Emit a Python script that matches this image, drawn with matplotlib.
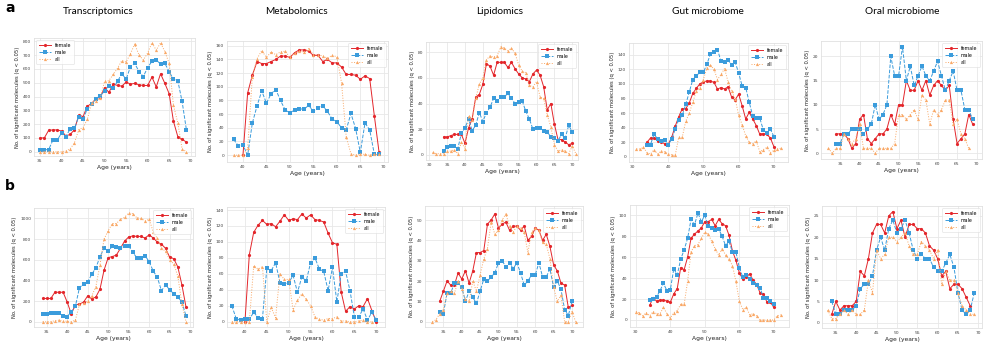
import numpy as np
import matplotlib
matplotlib.use('Agg')
import matplotlib.pyplot as plt

# ---- data: number of significant molecules per age window ----
# row a
tx_a_start = (35, 35, 35)
tx_a_female = [100, 100, 155, 158, 158, 150, 115, 125, 160, 265, 255, 330, 350, 385, 395, 465, 430, 490,
               480, 475, 505, 490, 495, 485, 480, 480, 540, 470, 565, 495, 420, 220, 110, 90, 70]
tx_a_male = [15, 15, 15, 85, 85, 135, 110, 165, 170, 255, 240, 310, 345, 385, 405, 440, 475, 460,
             510, 565, 525, 615, 640, 580, 545, 610, 655, 665, 635, 640, 580, 525, 515, 365, 160]
tx_a_all = [0, 0, 0, 0, 0, 0, 5, 20, 65, 160, 175, 235, 355, 370, 390, 510, 515, 560,
            605, 660, 650, 710, 780, 700, 665, 715, 790, 735, 790, 725, 640, 335, 210, 20, 0]

met_a_start = (40, 38, 38)
met_a_female = [0, 91, 117, 137, 134, 134, 137, 140, 145, 145, 143, 150, 154, 154, 152, 146, 146, 137,
                140, 135, 135, 129, 118, 118, 117, 111, 116, 112, 57, 4]
met_a_male = [23, 14, 15, 0, 47, 72, 94, 76, 90, 96, 80, 66, 62, 66, 68, 67, 73, 64, 69, 72, 64, 53,
              49, 40, 37, 61, 39, 4, 47, 37, 1, 1]
met_a_all = [0, 0, 0, 10, 115, 141, 153, 143, 151, 147, 151, 152, 143, 149, 152, 151, 156, 147, 147,
             145, 142, 146, 144, 106, 27, 2, 0, 2, 1, 0, 1, 1]

lip_a_start = (34, 34, 31)
lip_a_female = [14, 14, 15, 16, 16, 16, 9, 21, 28, 45, 47, 55, 71, 69, 62, 72, 72, 72, 68, 72, 67, 63,
                60, 59, 57, 63, 66, 62, 53, 35, 40, 24, 12, 12, 10, 8, 9]
lip_a_male = [3, 6, 7, 7, 5, 17, 21, 28, 19, 23, 33, 26, 33, 37, 44, 42, 45, 45, 48, 44, 40, 41, 42,
              34, 28, 20, 21, 21, 19, 18, 14, 13, 11, 16, 13, 23, 18]
lip_a_all = [2, 1, 1, 1, 3, 3, 4, 1, 10, 5, 30, 27, 44, 55, 60, 74, 77, 76, 77, 84, 83, 81, 83, 79,
             70, 65, 64, 54, 53, 57, 45, 44, 31, 22, 8, 3, 4, 3, 1, 7, 1]

gut_a_start = (34, 34, 31)
gut_a_female = [20, 26, 26, 22, 21, 18, 17, 27, 42, 55, 66, 66, 74, 87, 94, 100, 103, 104, 104, 102,
                93, 95, 93, 96, 82, 78, 86, 70, 52, 61, 52, 43, 31, 32, 31, 26, 14]
gut_a_male = [16, 17, 31, 25, 22, 23, 17, 24, 38, 51, 57, 72, 89, 106, 111, 116, 116, 127, 141, 144,
              147, 131, 130, 133, 126, 130, 115, 97, 95, 75, 56, 54, 53, 37, 33, 38, 28]
gut_a_all = [11, 11, 13, 6, 4, 10, 4, 8, 7, 4, 3, 2, 27, 27, 49, 60, 75, 90, 95, 106, 122, 126, 120,
             106, 113, 121, 103, 90, 80, 57, 44, 29, 20, 18, 22, 7, 10, 13, 6, 9, 11, 12]

oral_a_start = (34, 34, 32)
oral_a_female = [4, 4, 4, 3, 1, 2, 7, 8, 3, 2, 3, 4, 4, 5, 8, 6, 10, 10, 15, 13, 13, 15, 13, 15, 12,
                 14, 15, 14, 13, 14, 7, 2, 3, 4, 8, 6]
oral_a_male = [2, 2, 4, 4, 5, 5, 5, 4, 5, 6, 10, 7, 8, 10, 20, 16, 16, 22, 15, 18, 14, 16, 18, 16, 15,
               17, 19, 16, 13, 15, 17, 13, 13, 9, 9, 7]
oral_a_all = [1, 0, 1, 1, 4, 3, 2, 3, 6, 1, 1, 1, 0, 1, 1, 1, 1, 2, 8, 8, 7, 8, 9, 7, 12, 11, 6, 9, 8,
              9, 11, 11, 6, 7, 4, 3, 1]

# row b
tx_b_start = (34, 34, 34)
tx_b_female = [225, 225, 225, 285, 285, 285, 190, 75, 165, 170, 190, 250, 220, 240, 315, 500, 620, 630,
               645, 710, 780, 820, 830, 825, 825, 810, 840, 810, 770, 750, 710, 625, 610, 530, 355, 140]
tx_b_male = [75, 75, 80, 85, 80, 60, 50, 95, 150, 330, 365, 385, 460, 520, 630, 710, 680, 730, 720,
             715, 735, 735, 670, 620, 615, 640, 580, 490, 430, 300, 355, 310, 270, 240, 190, 55]
tx_b_all = [0, 0, 0, 10, 15, 5, 5, 0, 15, 170, 180, 200, 250, 340, 550, 800, 880, 950, 950, 990, 1010,
            1050, 1045, 1005, 1000, 975, 990, 870, 805, 715, 680, 600, 560, 440, 170, 0]

met_b_start = (40, 37, 37)
met_b_female = [0, 84, 112, 121, 127, 122, 123, 119, 126, 134, 127, 129, 128, 135, 130, 134, 128, 127,
                125, 111, 99, 97, 37, 13, 19, 16, 20, 19, 29, 14, 0]
met_b_male = [20, 4, 2, 4, 3, 12, 5, 4, 67, 64, 74, 49, 47, 49, 58, 37, 56, 51, 74, 80, 66, 63, 39,
              68, 25, 60, 63, 39, 6, 6, 16, 2, 12, 2]
met_b_all = [0, 0, 0, 0, 0, 70, 66, 69, 0, 18, 5, 60, 53, 53, 15, 27, 35, 28, 20, 6, 3, 2, 4, 4, 6,
             1, 1, 0, 0, 1, 2, 0, 0]

lip_b_start = (34, 34, 32)
lip_b_female = [10, 15, 20, 18, 18, 24, 21, 25, 19, 25, 34, 34, 35, 48, 50, 53, 46, 48, 49, 45, 47, 47,
                45, 47, 40, 42, 46, 45, 40, 43, 37, 28, 25, 19, 18, 7, 8]
lip_b_male = [5, 4, 14, 14, 19, 19, 17, 10, 15, 12, 9, 15, 21, 20, 22, 24, 29, 30, 27, 29, 26, 29, 24,
              18, 20, 23, 23, 29, 22, 22, 26, 17, 20, 16, 6, 3, 10]
lip_b_all = [0, 1, 4, 6, 14, 15, 14, 20, 16, 11, 10, 20, 15, 23, 31, 36, 49, 43, 45, 50, 53, 47, 44,
             47, 46, 44, 34, 44, 46, 45, 39, 38, 31, 17, 10, 13, 0, 0, 5, 0]

gut_b_start = (34, 34, 30)
gut_b_female = [14, 21, 18, 19, 19, 18, 17, 25, 30, 50, 48, 60, 78, 82, 85, 88, 94, 94, 96, 90, 96, 92,
                90, 81, 66, 57, 45, 39, 41, 44, 38, 34, 26, 25, 17, 17, 12]
gut_b_male = [19, 20, 22, 28, 35, 28, 29, 49, 43, 58, 67, 78, 96, 91, 102, 94, 100, 90, 88, 86, 87, 80,
              71, 75, 65, 65, 50, 41, 43, 39, 35, 33, 31, 21, 21, 18, 15]
gut_b_all = [8, 7, 4, 7, 4, 8, 6, 6, 12, 6, 2, 7, 9, 15, 15, 37, 65, 71, 72, 78, 84, 82, 75, 68, 62,
             68, 62, 58, 52, 37, 18, 10, 12, 5, 6, 4, 0, 0, 0, 0, 0, 4, 5]

oral_b_start = (34, 34, 33)
oral_b_female = [2, 5, 3, 4, 4, 4, 5, 12, 11, 15, 21, 23, 23, 21, 25, 26, 22, 24, 20, 23, 23, 22, 22,
                 21, 18, 17, 15, 11, 12, 8, 9, 9, 8, 6, 4]
oral_b_male = [5, 2, 2, 3, 3, 3, 4, 8, 9, 9, 11, 17, 20, 17, 22, 24, 21, 22, 24, 21, 17, 15, 16, 15,
               15, 13, 12, 12, 14, 16, 13, 7, 3, 2, 3, 7]
oral_b_all = [3, 1, 1, 2, 3, 2, 3, 2, 2, 3, 10, 7, 17, 15, 16, 20, 20, 19, 20, 21, 18, 16, 16, 19, 18,
              17, 15, 17, 9, 12, 10, 10, 7, 4, 3, 2, 2]

titles = ["Transcriptomics", "Metabolomics", "Lipidomics", "Gut microbiome", "Oral microbiome"]
series_names = ["female", "male", "all"]

W, H = 997, 355
fig = plt.figure(figsize=(W / 100, H / 100), dpi=100)

red, blue, orange = '#e3262b', '#3b9cdc', '#f9a866'
styles = [dict(color=red, ls='-', marker='o'),
          dict(color=blue, ls='--', marker='s'),
          dict(color=orange, ls=':', marker='^')]


def px_axes(x0, y0, x1, y1):
    # axes box given in pixel coordinates of the reference (top-left origin)
    return fig.add_axes([x0 / W, 1 - y1 / H, (x1 - x0) / W, (y1 - y0) / H])


def panel(ax, starts, female, male, allv, xlim, ylim, xticks, yticks, legend_loc):
    for start, vals, name, st in zip(starts, [female, male, allv], series_names, styles):
        ages = np.arange(start, start + len(vals))
        ax.plot(ages, vals, label=name, lw=0.7, ms=2.3, mew=0, **st)
    ax.set_xlim(*xlim)
    ax.set_ylim(*ylim)
    ax.set_xticks(xticks)
    ax.set_yticks(yticks)
    ax.grid(True, color='#e8e8e8', lw=0.6)
    ax.set_axisbelow(True)
    for s in ax.spines.values():
        s.set_color('#e0e0e0')
        s.set_linewidth(0.6)
    ax.tick_params(length=0, labelsize=3.2, labelcolor='#444444', pad=2)
    ax.set_xlabel("Age (years)", fontsize=4.3, labelpad=1.5, color='#222222')
    ax.set_ylabel("No. of significant molecules (q < 0.05)", fontsize=3.8, labelpad=2, color='#222222')
    leg = ax.legend(loc=legend_loc, fontsize=3.4, frameon=True, handlelength=2.6,
                    borderpad=0.5, labelspacing=0.45, handletextpad=0.8)
    leg.get_frame().set_edgecolor('#dddddd')
    leg.get_frame().set_linewidth(0.5)


# row a
ax = px_axes(34, 38, 195, 156)
panel(ax, tx_a_start, tx_a_female, tx_a_male, tx_a_all, (33.6, 71), (-31, 824),
      range(35, 71, 5), range(0, 801, 100), 'upper left')
ax = px_axes(227, 41, 388, 162)
panel(ax, met_a_start, met_a_female, met_a_male, met_a_all, (36.6, 70.9), (-10, 167),
      range(40, 71, 5), range(0, 161, 20), 'upper right')
ax = px_axes(426, 42, 578, 160)
panel(ax, lip_a_start, lip_a_female, lip_a_male, lip_a_all, (29.1, 71.6), (-3.9, 87.8),
      range(30, 71, 5), range(0, 81, 20), 'upper right')
ax = px_axes(629, 43, 788, 162)
panel(ax, gut_a_start, gut_a_female, gut_a_male, gut_a_all, (28.9, 74), (-6.9, 156),
      range(30, 71, 10), range(0, 141, 20), 'upper right')
ax = px_axes(821, 41, 982, 159)
panel(ax, oral_a_start, oral_a_female, oral_a_male, oral_a_all, (30.1, 71.4), (-1.2, 23.2),
      range(35, 71, 5), range(0, 21, 5), 'upper right')

# row b
ax = px_axes(34, 208, 193, 327)
panel(ax, tx_b_start, tx_b_female, tx_b_male, tx_b_all, (31.9, 70.7), (-51, 1100),
      range(35, 71, 5), range(0, 1001, 200), 'upper right')
ax = px_axes(227, 207, 385, 327)
panel(ax, met_b_start, met_b_female, met_b_male, met_b_all, (35.9, 72), (-6.6, 143.8),
      range(40, 71, 5), range(0, 141, 20), 'upper right')
ax = px_axes(425, 206, 583, 327)
panel(ax, lip_b_start, lip_b_female, lip_b_male, lip_b_all, (30, 73), (-2.6, 56.9),
      range(35, 71, 5), range(0, 51, 10), 'upper right')
ax = px_axes(630, 205, 789, 327)
panel(ax, gut_b_start, gut_b_female, gut_b_male, gut_b_all, (28.3, 74.4), (-6.7, 109.8),
      range(30, 71, 10), range(0, 101, 20), 'upper right')
ax = px_axes(822, 206, 982, 328)
panel(ax, oral_b_start, oral_b_female, oral_b_male, oral_b_all, (31.6, 70.9), (-1.2, 27.3),
      range(35, 71, 5), range(0, 26, 5), 'upper right')

# column titles and panel letters
title_x = [98, 296, 500, 708, 902]
for t, xc in zip(titles, title_x):
    fig.text(xc / W, 1 - 12 / H, t, ha='center', va='center', fontsize=7.3, family='Lato')
fig.text(5 / W, 1 - 8 / H, 'a', ha='left', va='center', fontsize=10, weight='bold')
fig.text(5 / W, 1 - 186 / H, 'b', ha='left', va='center', fontsize=10, weight='bold')

fig.savefig('out.png', dpi=100)
